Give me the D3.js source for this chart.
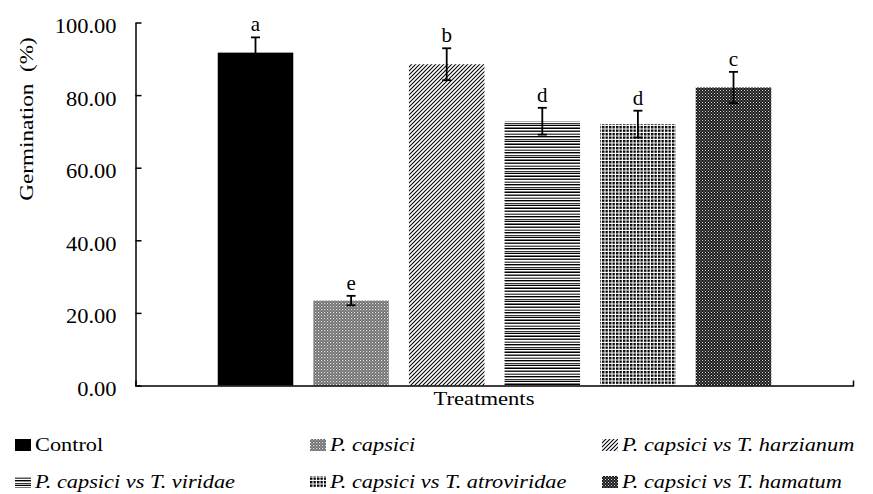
<!DOCTYPE html>
<html lang="en">
<head>
<meta charset="utf-8">
<title>Germination</title>
<script src="https://cdnjs.cloudflare.com/ajax/libs/d3/7.8.5/d3.min.js"></script>
<style>
  body { margin: 0; background: #fff; }
  text { font-family: "Liberation Serif", "Times New Roman", serif; fill: #000; }
</style>
</head>
<body>
<script>
// data
var treatments = ["Control", "P. capsici", "P. capsici vs T. harzianum",
                  "P. capsici vs T. viridae", "P. capsici vs T. atroviridae", "P. capsici vs T. hamatum"];
var germination = [91.7, 23.4, 88.5, 72.8, 72.0, 82.1];
var errors = [4.2, 1.3, 4.4, 3.7, 3.7, 4.3];
var letters = ["a", "e", "b", "d", "d", "c"];
var yTicks = [0, 20, 40, 60, 80, 100];

var width = 873, height = 494;
var plotLeft = 136, plotRight = 853, plotTop = 22.5, plotBottom = 385.5;

var svg = d3.select("body").append("svg")
  .attr("width", width)
  .attr("height", height);

// stretch text horizontally (the original picture is a bit wide)
function stretch(sel, f) {
  sel.each(function() {
    var w = this.getComputedTextLength();
    this.setAttribute("textLength", w * f);
    this.setAttribute("lengthAdjust", "spacingAndGlyphs");
  });
}

// fill patterns
var defs = svg.append("defs");
var fills = ["url(#p0)", "url(#p1)", "url(#p2)", "url(#p3)", "url(#p4)", "url(#p5)"];

defs.append("pattern").attr("id", "p0").attr("patternUnits", "userSpaceOnUse")
  .attr("width", 4).attr("height", 4)
  .append("rect").attr("width", 4).attr("height", 4).attr("fill", "#000");

var p1 = defs.append("pattern").attr("id", "p1").attr("patternUnits", "userSpaceOnUse")
  .attr("width", 3).attr("height", 3);
p1.append("rect").attr("width", 3).attr("height", 3).attr("fill", "#6a6a6a");
p1.append("rect").attr("x", 0).attr("y", 0).attr("width", 1.2).attr("height", 1.2).attr("fill", "#e8e8e8");
p1.append("rect").attr("x", 1.5).attr("y", 1.5).attr("width", 1.1).attr("height", 1.1).attr("fill", "#c8c8c8");

var p2 = defs.append("pattern").attr("id", "p2").attr("patternUnits", "userSpaceOnUse")
  .attr("width", 4).attr("height", 4);
p2.append("rect").attr("width", 4).attr("height", 4).attr("fill", "#fff");
p2.append("path").attr("d", "M-1,1 L1,-1 M0,4 L4,0 M3,5 L5,3")
  .attr("stroke", "#000").attr("stroke-width", 1.05);

var stripeCols = ["#000", "#fff", "#8a8a8a", "#222", "#fff", "#aaa", "#555", "#fff",
                  "#000", "#999", "#fff", "#333", "#bbb", "#000", "#fff", "#777"];
var p3 = defs.append("pattern").attr("id", "p3").attr("patternUnits", "userSpaceOnUse")
  .attr("width", 4).attr("height", stripeCols.length);
stripeCols.forEach(function(c, i) {
  p3.append("rect").attr("x", 0).attr("y", i).attr("width", 4).attr("height", 1).attr("fill", c);
});

var p4 = defs.append("pattern").attr("id", "p4").attr("patternUnits", "userSpaceOnUse")
  .attr("width", 3.5).attr("height", 3.5);
p4.append("rect").attr("width", 3.5).attr("height", 3.5).attr("fill", "#fff");
p4.append("rect").attr("width", 2.4).attr("height", 2.4).attr("fill", "#000");

var p5 = defs.append("pattern").attr("id", "p5").attr("patternUnits", "userSpaceOnUse")
  .attr("width", 3).attr("height", 3);
p5.append("rect").attr("width", 3).attr("height", 3).attr("fill", "#1a1a1a");
p5.append("rect").attr("x", 0).attr("y", 0).attr("width", 1).attr("height", 1).attr("fill", "#ddd");
p5.append("rect").attr("x", 1.5).attr("y", 1.5).attr("width", 1).attr("height", 1).attr("fill", "#bbb");

// scales
var x = d3.scaleBand()
  .domain(treatments)
  .range([plotLeft, plotRight])
  .paddingInner(0.21)
  .paddingOuter(0.855);

var y = d3.scaleLinear()
  .domain([0, 100])
  .range([plotBottom, plotTop]);

// bars
svg.selectAll("rect.bar")
  .data(treatments)
  .enter()
  .append("rect")
  .attr("class", "bar")
  .attr("x", function(d) { return x(d); })
  .attr("width", x.bandwidth())
  .attr("y", function(d, i) { return y(germination[i]); })
  .attr("height", function(d, i) { return y(0) - y(germination[i]); })
  .attr("fill", function(d, i) { return fills[i]; });

// error bars
var eb = svg.selectAll("g.err")
  .data(treatments)
  .enter()
  .append("g")
  .attr("class", "err")
  .attr("stroke", "#000")
  .attr("stroke-width", 1.8);

eb.append("line")
  .attr("x1", function(d) { return x(d) + x.bandwidth() / 2; })
  .attr("x2", function(d) { return x(d) + x.bandwidth() / 2; })
  .attr("y1", function(d, i) { return y(germination[i] - errors[i]); })
  .attr("y2", function(d, i) { return y(germination[i] + errors[i]); });
eb.append("line")
  .attr("x1", function(d) { return x(d) + x.bandwidth() / 2 - 4.5; })
  .attr("x2", function(d) { return x(d) + x.bandwidth() / 2 + 4.5; })
  .attr("y1", function(d, i) { return y(germination[i] + errors[i]); })
  .attr("y2", function(d, i) { return y(germination[i] + errors[i]); });
eb.append("line")
  .attr("x1", function(d) { return x(d) + x.bandwidth() / 2 - 4.5; })
  .attr("x2", function(d) { return x(d) + x.bandwidth() / 2 + 4.5; })
  .attr("y1", function(d, i) { return y(germination[i] - errors[i]); })
  .attr("y2", function(d, i) { return y(germination[i] - errors[i]); });

// significance letters
svg.selectAll("text.letter")
  .data(letters)
  .enter()
  .append("text")
  .attr("class", "letter")
  .attr("x", function(d, i) { return x(treatments[i]) + x.bandwidth() / 2; })
  .attr("y", function(d, i) { return y(germination[i] + errors[i]) - 6; })
  .attr("text-anchor", "middle")
  .attr("font-size", 21)
  .text(function(d) { return d; });

// y axis
var yAxis = svg.append("g")
  .attr("transform", "translate(" + (plotLeft - 0.5) + ",0)")
  .call(d3.axisLeft(y)
    .tickValues(yTicks)
    .tickFormat(d3.format(".2f"))
    .tickSizeInner(-6)
    .tickSizeOuter(0)
    .tickPadding(19));
yAxis.selectAll("path, line").attr("stroke", "#000").attr("stroke-width", 1.5);
yAxis.selectAll("text")
  .attr("font-family", "Liberation Serif, Times New Roman, serif")
  .attr("font-size", 21)
  .attr("dy", "0.48em")
  .attr("fill", "#000");
stretch(yAxis.selectAll("text"), 1.07);

// x axis (one category, ticks at both ends only)
var xCat = d3.scaleBand().domain(["Treatments"]).range([plotLeft - 0.5, plotRight]);
var xAxis = svg.append("g")
  .attr("transform", "translate(0," + plotBottom + ")")
  .call(d3.axisBottom(xCat).tickValues([]).tickSizeOuter(-5));
xAxis.selectAll("path").attr("stroke", "#000").attr("stroke-width", 1.5);

var xTitle = svg.append("text")
  .attr("x", 484)
  .attr("y", 405)
  .attr("text-anchor", "middle")
  .attr("font-size", 19)
  .text("Treatments");
stretch(xTitle, 1.19);

var yTitle = svg.append("text")
  .attr("transform", "translate(33,119) rotate(-90)")
  .attr("text-anchor", "middle")
  .attr("font-size", 19)
  .text("Germination\u00a0\u00a0(%)");
stretch(yTitle, 1.22);

// legend
var legCols = [15, 310, 602];
var legRows = [451, 488];
var leg = svg.selectAll("g.leg")
  .data(treatments)
  .enter()
  .append("g")
  .attr("class", "leg")
  .attr("transform", function(d, i) {
    return "translate(" + legCols[i % 3] + "," + legRows[Math.floor(i / 3)] + ")";
  });
leg.append("rect")
  .attr("x", 0)
  .attr("y", -12)
  .attr("width", 16)
  .attr("height", 12)
  .attr("fill", function(d, i) { return fills[i]; });
var legText = leg.append("text")
  .attr("x", 20)
  .attr("y", 0)
  .attr("font-size", 18)
  .attr("font-style", function(d, i) { return i === 0 ? "normal" : "italic"; })
  .text(function(d) { return d; });
stretch(legText, 1.24);
</script>
</body>
</html>
